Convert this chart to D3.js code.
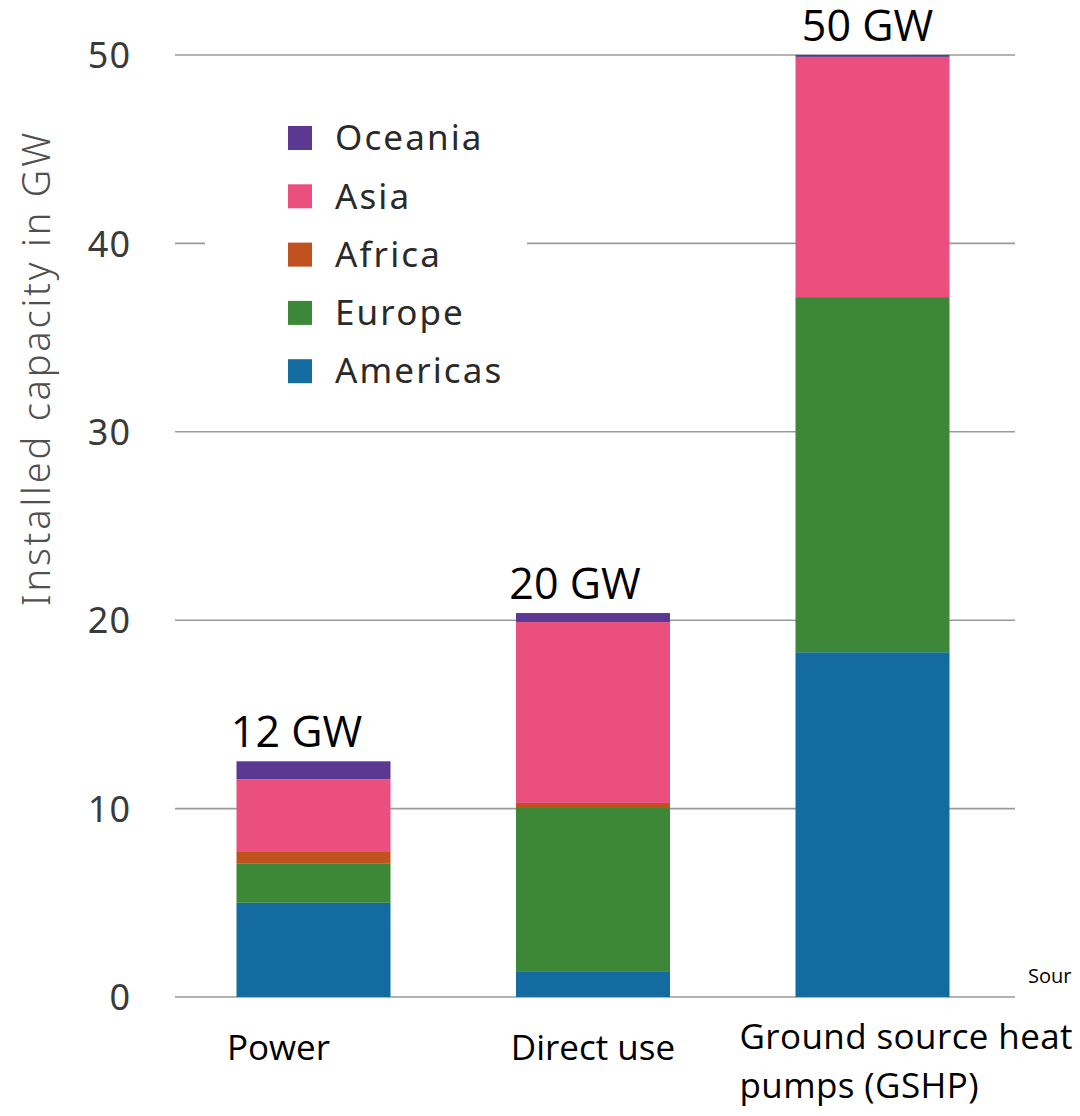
<!DOCTYPE html>
<html>
<head>
<meta charset="utf-8">
<script src="https://cdn.jsdelivr.net/npm/d3@7"></script>
<style>
  html, body { margin: 0; padding: 0; background: #ffffff; }
  svg { display: block; }
</style>
</head>
<body>
<div id="chart"></div>
<script>
// ---- Data ----
const categories = ["Power", "Direct use", "Ground source heat pumps (GSHP)"];
const categoryLines = [["Power"], ["Direct use"], ["Ground source heat", "pumps (GSHP)"]];
const regions = ["Americas", "Europe", "Africa", "Asia", "Oceania"];
const americas = [5.0, 1.33, 18.3];
const europe   = [2.1, 8.7, 18.85];
const africa   = [0.64, 0.27, 0.0];
const asia     = [3.82, 9.6, 12.75];
const oceania  = [0.95, 0.48, 0.1];
const totalLabels = ["12 GW", "20 GW", "50 GW"];
const yTicks = [0, 10, 20, 30, 40, 50];
const legendOrder = ["Oceania", "Asia", "Africa", "Europe", "Americas"];
const colors = {
  Americas: "#146b9f",
  Europe: "#3d8838",
  Africa: "#c0521f",
  Asia: "#ea4f7e",
  Oceania: "#5b3891"
};

// ---- Build table ----
const seriesValues = { Americas: americas, Europe: europe, Africa: africa, Asia: asia, Oceania: oceania };
const table = categories.map((c, i) => {
  const row = { category: c };
  regions.forEach(r => row[r] = seriesValues[r][i]);
  return row;
});

const W = 1080, H = 1116;
const svg = d3.select("#chart").append("svg").attr("width", W).attr("height", H);

const x = d3.scaleBand().domain(categories).range([174, 1012]).paddingInner(0.449).paddingOuter(0.2236);
const y = d3.scaleLinear().domain([0, 50]).range([997, 55]);

// gridlines
svg.append("g").selectAll("line").data(yTicks).join("line")
  .attr("x1", 175).attr("x2", 1015)
  .attr("y1", d => y(d)).attr("y2", d => y(d))
  .attr("stroke", "#9a9a9a").attr("stroke-width", 1.6);

// y tick labels via axis
const yAxis = d3.axisLeft(y).tickValues(yTicks).tickSize(0).tickPadding(0).tickFormat(d3.format("d"));
const gy = svg.append("g").attr("transform", "translate(131,0)").call(yAxis);
gy.select(".domain").remove();
gy.selectAll("text")
  .attr("font-family", "'Noto Sans', sans-serif")
  .attr("font-size", 36)
  .attr("fill", "#3a3a3a")
  .attr("letter-spacing", 1)
  .attr("dy", "0.35em");

// y axis title
svg.append("text")
  .attr("transform", "translate(50,368) rotate(-90)")
  .attr("text-anchor", "middle")
  .attr("font-family", "'Noto Sans', sans-serif")
  .attr("font-size", 38)
  .attr("font-weight", 300)
  .attr("letter-spacing", 2.8)
  .attr("fill", "#505050")
  .text("Installed capacity in GW");

// stacked bars
const stack = d3.stack().keys(regions);
const stacked = stack(table);
svg.append("g").selectAll("g").data(stacked).join("g")
  .attr("fill", d => colors[d.key])
  .selectAll("rect").data(d => d).join("rect")
  .attr("x", d => x(d.data.category))
  .attr("width", x.bandwidth())
  .attr("y", d => y(d[1]))
  .attr("height", d => Math.max(0, y(d[0]) - y(d[1])));

// total labels
const totals = table.map(r => d3.sum(regions, k => r[k]));
const labelDx = [-17, -18, -5];
svg.append("g").selectAll("text").data(categories).join("text")
  .attr("x", (d, i) => x(d) + x.bandwidth() / 2 + labelDx[i])
  .attr("y", (d, i) => y(totals[i]) - 14)
  .attr("text-anchor", "middle")
  .attr("font-family", "'Open Sans', sans-serif")
  .attr("font-size", 43)
  .attr("fill", "#000")
  .text((d, i) => totalLabels[i]);

// category labels
const catG = svg.append("g");
categories.forEach((c, i) => {
  const lines = categoryLines[i];
  let tx, anchor;
  if (i === 0) { tx = x(c) + x.bandwidth() / 2 - 35; anchor = "middle"; }
  else if (i === 1) { tx = x(c) + x.bandwidth() / 2; anchor = "middle"; }
  else { tx = x(c) - 56; anchor = "start"; }
  const baseY = lines.length > 1 ? 1049 : 1060;
  const t = catG.append("text")
    .attr("text-anchor", anchor)
    .attr("font-family", "'Open Sans', sans-serif")
    .attr("font-size", 35)
    .attr("letter-spacing", i === 2 ? 0.4 : 0)
    .attr("fill", "#000");
  lines.forEach((ln, j) => {
    t.append("tspan").attr("x", tx).attr("y", baseY + j * 49).text(ln);
  });
});

// legend
const lg = svg.append("g");
lg.append("rect").attr("x", 205).attr("y", 100).attr("width", 322).attr("height", 300).attr("fill", "#fff");
legendOrder.forEach((r, i) => {
  const cy = 138 + i * 58.3;
  lg.append("rect").attr("x", 288).attr("y", cy - 12).attr("width", 24).attr("height", 24).attr("fill", colors[r]);
  lg.append("text").attr("x", 335).attr("y", cy).attr("dy", "0.35em")
    .attr("font-family", "'Noto Sans', sans-serif")
    .attr("font-size", 35)
    .attr("letter-spacing", 2.1)
    .attr("fill", "#2a2a2a")
    .text(r);
});

// clipped source note
svg.append("text").attr("x", 1028).attr("y", 983)
  .attr("font-family", "'Open Sans', sans-serif")
  .attr("font-size", 20).attr("fill", "#000")
  .text("Sour");
</script>
</body>
</html>
